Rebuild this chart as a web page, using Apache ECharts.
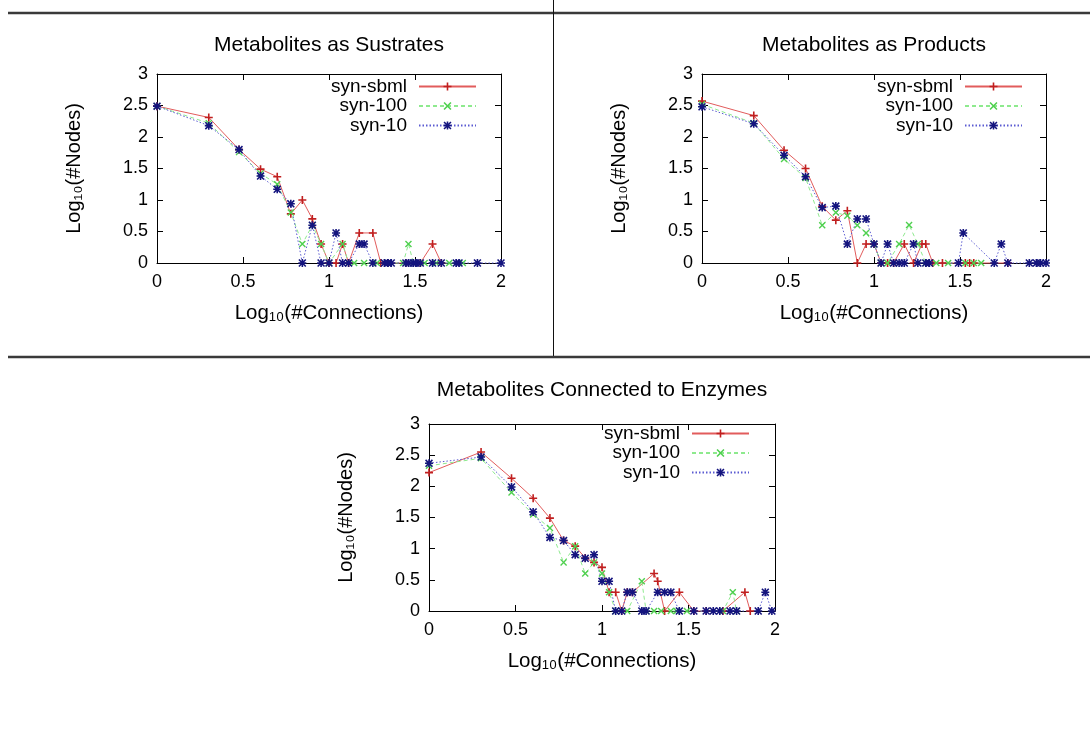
<!DOCTYPE html>
<html><head><meta charset="utf-8">
<script src="https://cdn.jsdelivr.net/npm/echarts@6/dist/echarts.min.js"></script>
<style>html,body{margin:0;padding:0;background:#fff}#c{width:1090px;height:747px}</style>
</head><body><div id="c"></div>
<script>
// ---- data ----
const seriesNames = ['syn-sbml', 'syn-100', 'syn-10'];
const panelTitles = ['Metabolites as Sustrates', 'Metabolites as Products', 'Metabolites Connected to Enzymes'];
const xAxisTitle = 'Log\u2081\u2080(#Connections)';
const yAxisTitle = 'Log\u2081\u2080(#Nodes)';
const xRange = [0, 2];
const yRange = [0, 3];
const tickStep = 0.5;

const substratesSbml = [[0,2.49],[0.301,2.31],[0.477,1.80],[0.602,1.49],[0.699,1.37],[0.778,0.78],[0.845,1.0],[0.903,0.70],[0.954,0.301],[1.0,0],[1.041,0],[1.079,0.301],[1.114,0],[1.176,0.477],[1.255,0.477],[1.301,0],[1.342,0],[1.447,0],[1.531,0],[1.602,0.301],[1.653,0]];
const substrates100 = [[0,2.49],[0.301,2.22],[0.477,1.76],[0.602,1.42],[0.699,1.25],[0.778,0.80],[0.845,0.301],[0.903,0.60],[0.954,0.301],[1.0,0],[1.079,0.301],[1.114,0],[1.146,0],[1.204,0],[1.279,0],[1.342,0],[1.431,0],[1.462,0.301],[1.491,0],[1.556,0],[1.623,0],[1.699,0],[1.778,0]];
const substrates10 = [[0,2.49],[0.301,2.18],[0.477,1.80],[0.602,1.38],[0.699,1.17],[0.778,0.94],[0.845,0],[0.903,0.60],[0.954,0],[1.0,0],[1.041,0.477],[1.079,0],[1.114,0],[1.176,0.301],[1.204,0.301],[1.255,0],[1.322,0],[1.342,0],[1.362,0],[1.447,0],[1.462,0],[1.491,0],[1.505,0],[1.531,0],[1.602,0],[1.653,0],[1.740,0],[1.756,0],[1.863,0],[2.0,0]];

const productsSbml = [[0,2.57],[0.301,2.34],[0.477,1.79],[0.602,1.50],[0.699,0.90],[0.778,0.68],[0.845,0.83],[0.903,0],[0.954,0.301],[1.0,0.301],[1.041,0],[1.079,0],[1.114,0],[1.176,0.301],[1.230,0],[1.279,0.301],[1.301,0.301],[1.342,0],[1.398,0],[1.531,0],[1.556,0],[1.580,0],[1.778,0]];
const products100 = [[0,2.52],[0.301,2.22],[0.477,1.65],[0.602,1.35],[0.699,0.60],[0.778,0.80],[0.845,0.75],[0.903,0.60],[0.954,0.477],[1.0,0.301],[1.041,0],[1.079,0],[1.146,0.301],[1.204,0.602],[1.255,0.301],[1.301,0],[1.362,0],[1.431,0],[1.531,0],[1.580,0],[1.623,0]];
const products10 = [[0,2.48],[0.301,2.21],[0.477,1.71],[0.602,1.37],[0.699,0.88],[0.778,0.903],[0.845,0.301],[0.903,0.699],[0.954,0.699],[1.0,0.301],[1.041,0],[1.079,0.301],[1.114,0],[1.146,0],[1.176,0],[1.230,0.301],[1.255,0],[1.301,0],[1.322,0],[1.491,0],[1.519,0.477],[1.699,0],[1.740,0.301],[1.778,0],[1.903,0],[1.944,0],[1.968,0],[2.0,0]];

const enzymesSbml = [[0,2.22],[0.301,2.55],[0.477,2.13],[0.602,1.81],[0.699,1.49],[0.778,1.13],[0.845,1.04],[0.903,0.85],[0.954,0.78],[1.0,0.70],[1.041,0.301],[1.079,0.301],[1.114,0],[1.146,0.301],[1.176,0.301],[1.301,0.602],[1.322,0.477],[1.362,0],[1.447,0.301],[1.531,0],[1.602,0],[1.699,0],[1.826,0.301],[1.857,0]];
const enzymes100 = [[0,2.33],[0.301,2.45],[0.477,1.90],[0.602,1.55],[0.699,1.33],[0.778,0.78],[0.845,1.04],[0.903,0.60],[0.954,0.78],[1.0,0.60],[1.041,0.301],[1.079,0],[1.146,0],[1.230,0.477],[1.255,0],[1.301,0],[1.342,0],[1.398,0],[1.431,0],[1.491,0],[1.699,0],[1.756,0.301],[1.778,0]];
const enzymes10 = [[0,2.37],[0.301,2.47],[0.477,1.99],[0.602,1.59],[0.699,1.18],[0.778,1.13],[0.845,0.903],[0.903,0.845],[0.954,0.903],[1.0,0.477],[1.041,0.477],[1.079,0],[1.114,0],[1.146,0.301],[1.176,0.301],[1.230,0],[1.255,0],[1.322,0.301],[1.362,0.301],[1.398,0.301],[1.447,0],[1.531,0],[1.602,0],[1.643,0],[1.681,0],[1.740,0],[1.778,0],[1.903,0],[1.944,0.301],[1.982,0]];

const panelData = [
  [substratesSbml, substrates100, substrates10],
  [productsSbml, products100, products10],
  [enzymesSbml, enzymes100, enzymes10]
];

// ---- layout / style ----
const FONT = '"Liberation Sans", Arial, Helvetica, sans-serif';
const grids = [
  {left: 157, top: 74, width: 344, height: 189},
  {left: 702, top: 74, width: 344, height: 189},
  {left: 429, top: 424, width: 346, height: 187}
];
const titlePos = [{x: 329, y: 35}, {x: 874, y: 35}, {x: 602, y: 380}];
const legendPos = [{right: 613, top: 77}, {right: 67, top: 77}, {right: 340, top: 424}];

const plusPath = 'path://M4,0H6V4H10V6H6V10H4V6H0V4H4Z';
const crossPath = 'path://M0,1.4L1.4,0L10,8.6L8.6,10Z M8.6,0L10,1.4L1.4,10L0,8.6Z';
const starPath = 'path://M4,0H6V10H4Z M0,4H10V6H0Z M0,1.4L1.4,0L10,8.6L8.6,10Z M8.6,0L10,1.4L1.4,10L0,8.6Z';

const styles = [
  {symbol: plusPath, size: 8, marker: '#c01f1f', line: '#e25c5c', type: 'solid'},
  {symbol: crossPath, size: 7, marker: '#4fd04f', line: '#8eea8e', type: [4, 3]},
  {symbol: starPath, size: 8, marker: '#14147e', line: '#5b5bd2', type: [1.5, 2]}
];

const xAxes = [], yAxes = [], series = [], titles = [], legends = [];
grids.forEach((g, i) => {
  const lineCfg = {show: true, onZero: false, lineStyle: {color: '#000', width: 1}};
  const tickCfg = {show: true, inside: true, length: 6, lineStyle: {color: '#000', width: 1}};
  xAxes.push({
    type: 'value', gridIndex: i, position: 'bottom', min: xRange[0], max: xRange[1], interval: tickStep,
    axisLine: lineCfg, axisTick: tickCfg, splitLine: {show: false},
    axisLabel: {color: '#000', fontSize: 18, fontFamily: FONT, margin: 10},
    name: xAxisTitle, nameLocation: 'middle', nameGap: 40,
    nameTextStyle: {color: '#000', fontSize: 20.5, fontFamily: FONT}
  });
  xAxes.push({
    type: 'value', gridIndex: i, position: 'top', min: xRange[0], max: xRange[1], interval: tickStep,
    axisLine: lineCfg, axisTick: tickCfg, splitLine: {show: false}, axisLabel: {show: false}
  });
  yAxes.push({
    type: 'value', gridIndex: i, position: 'left', min: yRange[0], max: yRange[1], interval: tickStep,
    axisLine: lineCfg, axisTick: tickCfg, splitLine: {show: false},
    axisLabel: {color: '#000', fontSize: 18, fontFamily: FONT, margin: 9},
    name: yAxisTitle, nameLocation: 'middle', nameGap: 73,
    nameTextStyle: {color: '#000', fontSize: 20, fontFamily: FONT}
  });
  yAxes.push({
    type: 'value', gridIndex: i, position: 'right', min: yRange[0], max: yRange[1], interval: tickStep,
    axisLine: lineCfg, axisTick: tickCfg, splitLine: {show: false}, axisLabel: {show: false}
  });
  panelData[i].forEach((d, j) => {
    const s = styles[j];
    series.push({
      type: 'line', name: seriesNames[j], xAxisIndex: 2 * i, yAxisIndex: 2 * i,
      data: d, symbol: s.symbol, symbolSize: s.size, showSymbol: true, clip: false,
      itemStyle: {color: s.marker},
      lineStyle: {color: s.line, width: 1, type: s.type},
      emphasis: {disabled: true}, animation: false
    });
    legends.push({
      data: [seriesNames[j]], orient: 'horizontal', align: 'right',
      right: legendPos[i].right, top: legendPos[i].top + 19.5 * j,
      itemWidth: 57, itemHeight: 10, padding: 0, selectedMode: false,
      textStyle: {color: '#000', fontSize: 19, fontFamily: FONT, padding: [0, 7, 0, 0]}
    });
  });
  titles.push({
    text: panelTitles[i], left: titlePos[i].x, top: titlePos[i].y, textAlign: 'center', padding: 0,
    textStyle: {color: '#000', fontSize: 21, fontWeight: 'normal', fontFamily: FONT}
  });
});

const chart = echarts.init(document.getElementById('c'), null, {renderer: 'canvas'});
chart.setOption({
  backgroundColor: '#ffffff',
  animation: false,
  title: titles,
  legend: legends,
  grid: grids,
  xAxis: xAxes,
  yAxis: yAxes,
  series: series,
  graphic: [
    {type: 'line', shape: {x1: 8, y1: 13, x2: 1090, y2: 13}, style: {stroke: '#3a3a3a', lineWidth: 2.5}},
    {type: 'line', shape: {x1: 553.5, y1: 0, x2: 553.5, y2: 357}, style: {stroke: '#111', lineWidth: 1}},
    {type: 'line', shape: {x1: 8, y1: 357, x2: 1090, y2: 357}, style: {stroke: '#3a3a3a', lineWidth: 2.5}}
  ]
});
</script></body></html>
